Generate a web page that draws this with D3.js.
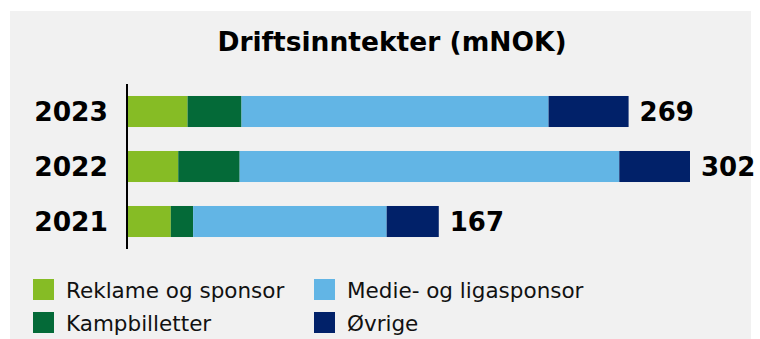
<!DOCTYPE html>
<html>
<head>
<meta charset="utf-8">
<script src="https://cdn.jsdelivr.net/npm/d3@7"></script>
<style>
  html, body { margin: 0; padding: 0; background: #ffffff; }
  svg { display: block; font-family: "DejaVu Sans", Verdana, sans-serif; }
</style>
</head>
<body>
<svg id="chart" width="760" height="339"></svg>
<script>
// Operating revenue per year, split by source (mNOK)
const years = ["2023", "2022", "2021"];
const seriesNames = ["Reklame og sponsor", "Kampbilletter", "Medie- og ligasponsor", "Øvrige"];
const reklame = [32, 27, 23];
const kamp = [29, 33, 12];
const medie = [165, 204, 104];
const ovrige = [43, 38, 28];
const totals = [269, 302, 167];
const colors = ["#86bc25", "#046a38", "#62b5e5", "#012169"];

const svg = d3.select("#chart");

// panel background
svg.append("rect")
  .attr("x", 10).attr("y", 11)
  .attr("width", 741).attr("height", 328)
  .attr("fill", "#f1f1f1");

svg.append("text")
  .attr("x", 392).attr("y", 51)
  .attr("text-anchor", "middle")
  .attr("font-size", 26.5)
  .attr("font-weight", "bold")
  .attr("fill", "#000")
  .text("Driftsinntekter (mNOK)");

const rows = years.map((y, i) => ({
  year: y,
  [seriesNames[0]]: reklame[i],
  [seriesNames[1]]: kamp[i],
  [seriesNames[2]]: medie[i],
  [seriesNames[3]]: ovrige[i],
  total: totals[i]
}));

const x = d3.scaleLinear().domain([0, 302]).range([128, 690]);
const y = d3.scaleBand().domain(years).range([84, 249])
  .paddingInner(0.436).paddingOuter(0.218);

const stack = d3.stack().keys(seriesNames);
const layers = stack(rows);

svg.append("g").selectAll("g")
  .data(layers)
  .join("g")
  .attr("fill", (d, i) => colors[i])
  .selectAll("rect")
  .data(d => d)
  .join("rect")
  .attr("x", d => x(d[0]))
  .attr("y", d => y(d.data.year))
  .attr("width", d => x(d[1]) - x(d[0]))
  .attr("height", y.bandwidth());

// value labels at the end of each bar
svg.append("g").selectAll("text")
  .data(rows)
  .join("text")
  .attr("x", d => x(d.total) + 11)
  .attr("y", d => y(d.year) + y.bandwidth() / 2 + 9.5)
  .attr("font-size", 26)
  .attr("font-weight", "bold")
  .attr("fill", "#000")
  .text(d => d.total);

// category axis
const yAxis = d3.axisLeft(y).tickSize(0).tickPadding(19);
const gy = svg.append("g")
  .attr("transform", "translate(127,0)")
  .call(yAxis);
gy.select(".domain").attr("stroke", "#000").attr("stroke-width", 2)
  .attr("d", "M0,84V249");
gy.selectAll(".tick text")
  .attr("font-size", 26.5)
  .attr("font-weight", "bold")
  .attr("font-family", "DejaVu Sans, Verdana, sans-serif")
  .attr("fill", "#000")
  .attr("dy", null)
  .attr("y", 9.5);

// legend, two columns
const legendPos = [
  { x: 33, y: 279 }, { x: 33, y: 312 },
  { x: 314, y: 279 }, { x: 314, y: 312 }
];
const legendOrder = [0, 1, 2, 3];
const lg = svg.append("g").selectAll("g")
  .data(legendOrder)
  .join("g")
  .attr("transform", (d, i) => `translate(${legendPos[i].x},${legendPos[i].y})`);
lg.append("rect")
  .attr("width", 21).attr("height", 21)
  .attr("fill", d => colors[d]);
lg.append("text")
  .attr("x", 33).attr("y", 18.5)
  .attr("font-size", 21.5)
  .attr("fill", "#111")
  .text(d => seriesNames[d]);
</script>
</body>
</html>
